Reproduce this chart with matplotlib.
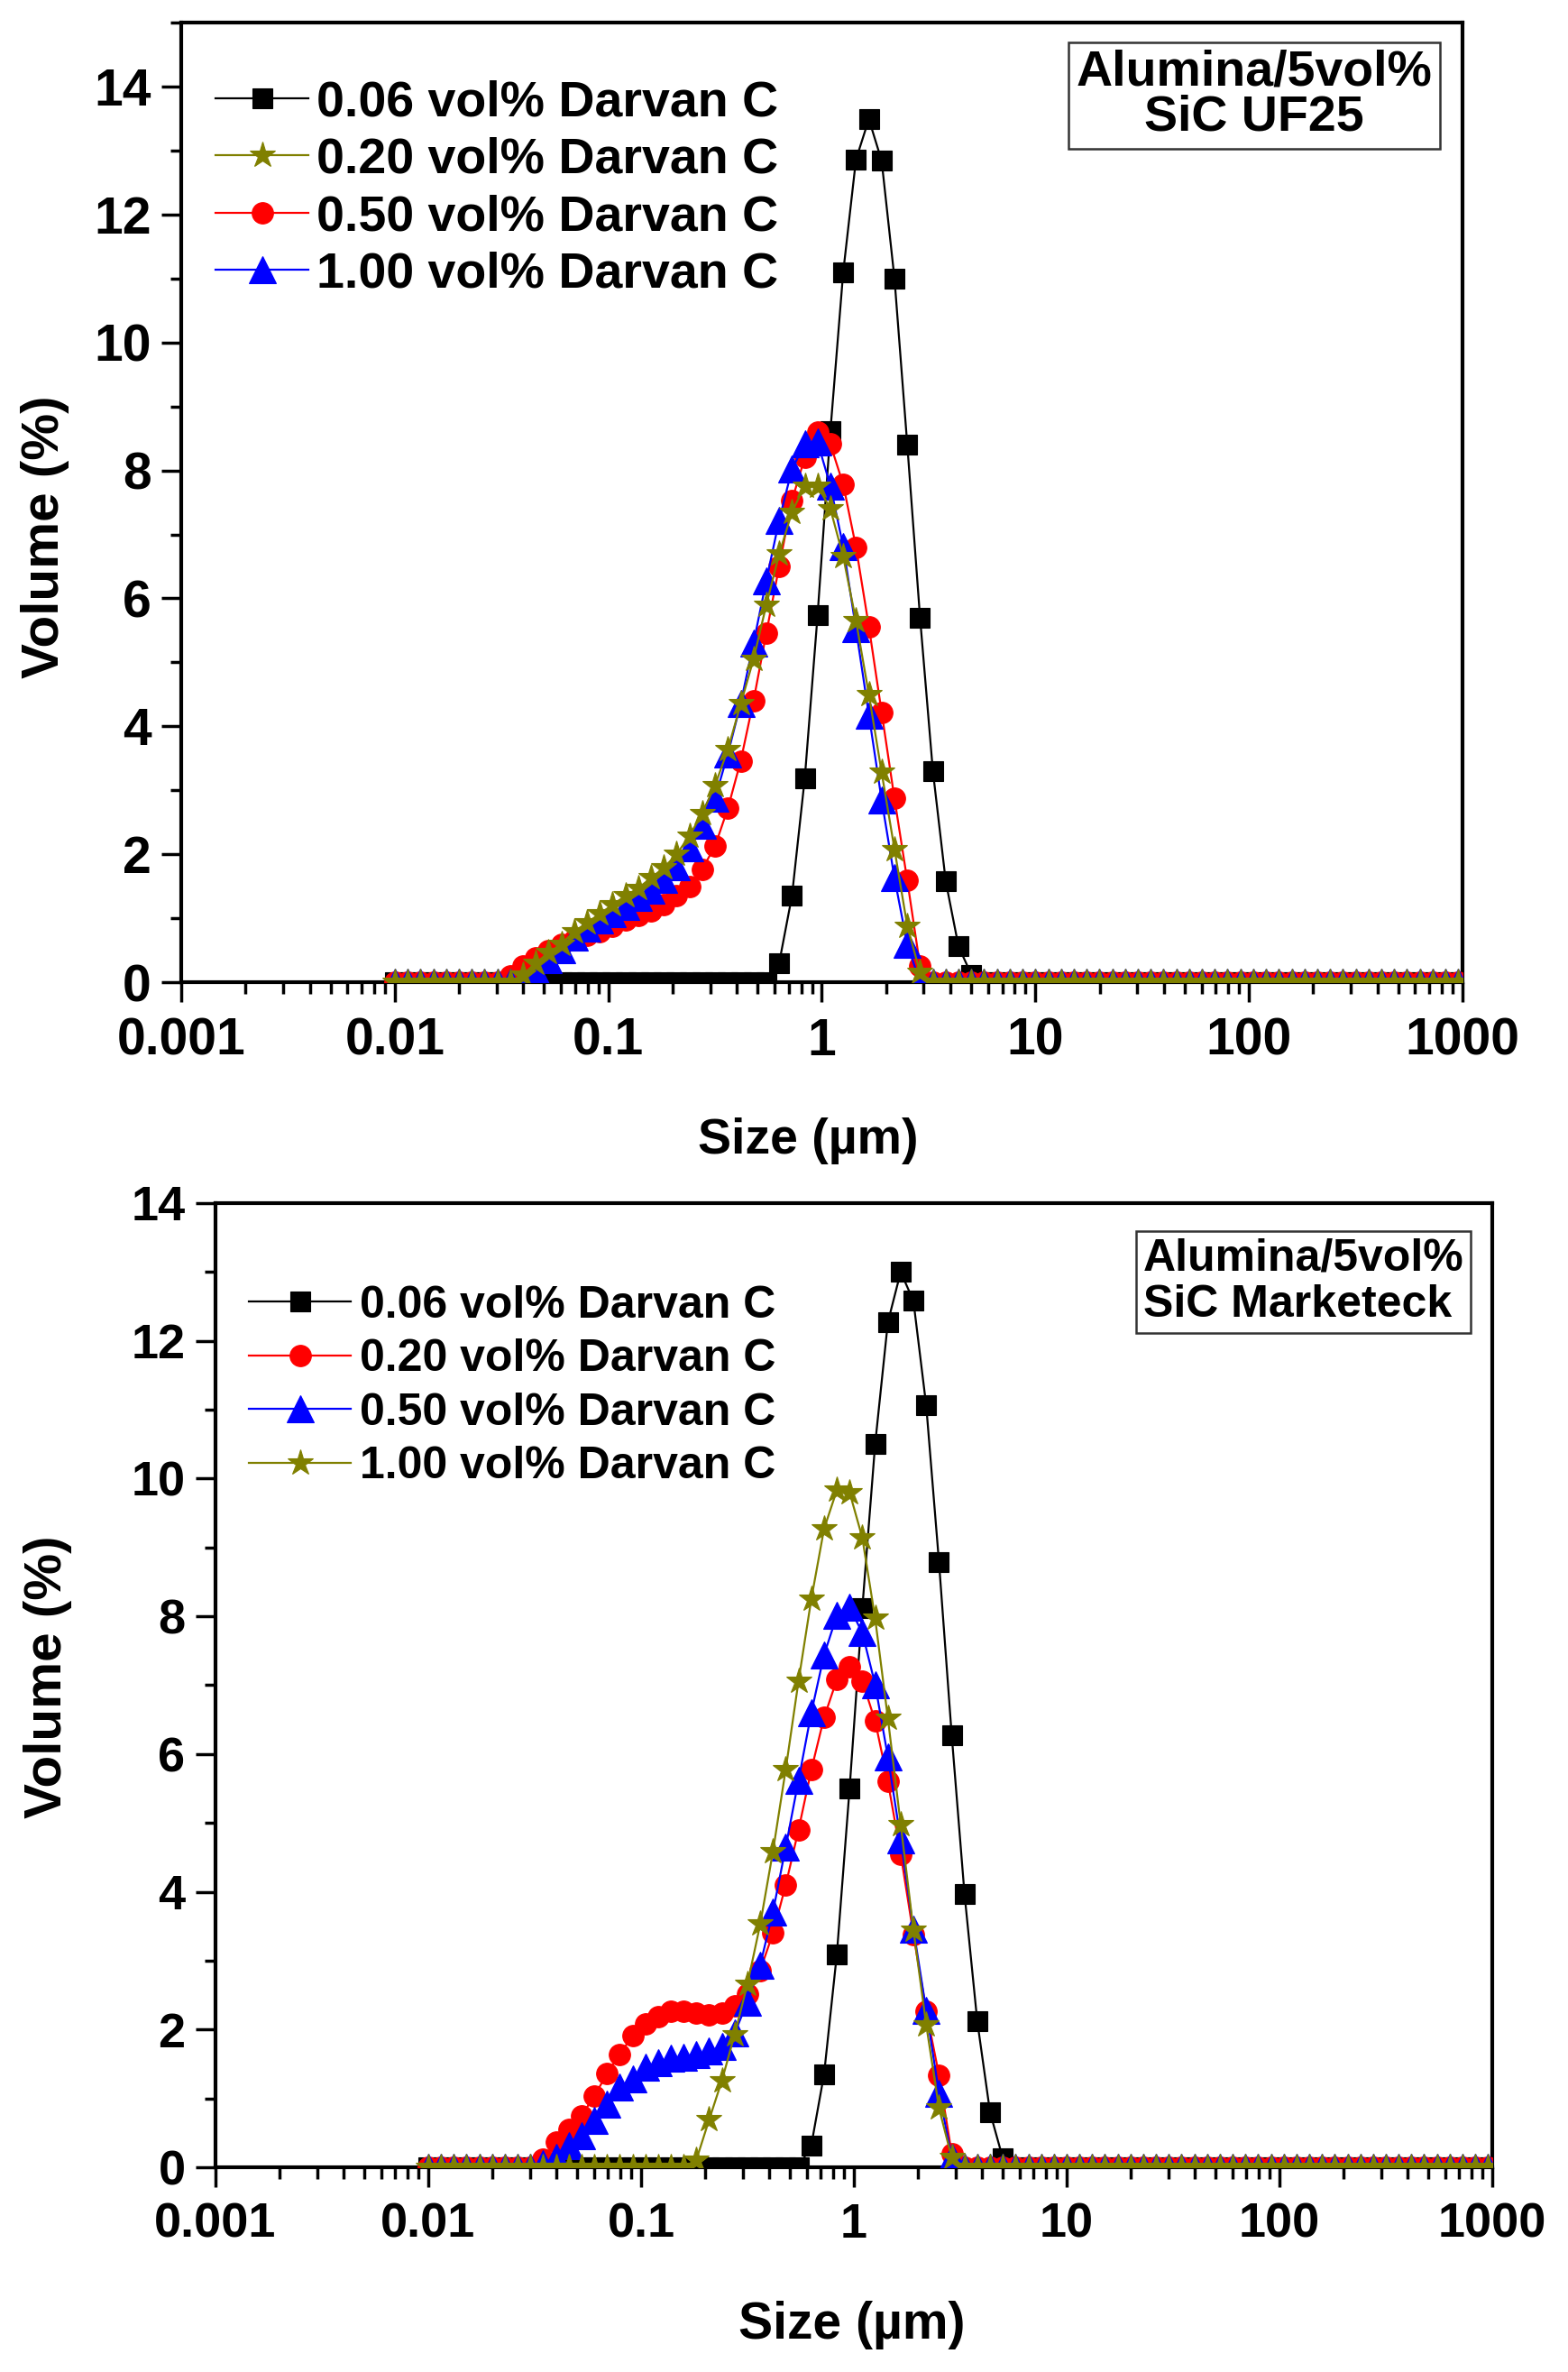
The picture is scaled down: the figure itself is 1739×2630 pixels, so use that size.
import numpy as np
import matplotlib
matplotlib.use("Agg")
import matplotlib.pyplot as plt
from matplotlib.ticker import FixedLocator, NullFormatter


# laser diffraction size classes (um), ~16.7 per decade
SIZE_UM = [
    0.0100, 0.01148, 0.01318, 0.01514, 0.01738, 0.01995, 0.02291, 0.02630, 0.03020, 0.03467,
    0.03981, 0.04571, 0.05248, 0.06026, 0.06918, 0.07943, 0.09120, 0.1047, 0.1202, 0.1380,
    0.1585, 0.1820, 0.2089, 0.2399, 0.2754, 0.3162, 0.3631, 0.4169, 0.4786, 0.5495,
    0.6310, 0.7244, 0.8318, 0.9550, 1.096, 1.259, 1.445, 1.660, 1.905, 2.188,
    2.512, 2.884, 3.311, 3.802, 4.365, 5.012, 5.754, 6.607, 7.586, 8.710,
    10.00, 11.48, 13.18, 15.14, 17.38, 19.95, 22.91, 26.30, 30.20, 34.67,
    39.81, 45.71, 52.48, 60.26, 69.18, 79.43, 91.20, 104.7, 120.2, 138.0,
    158.5, 182.0, 208.9, 239.9, 275.4, 316.2, 363.1, 416.9, 478.6, 549.5,
    631.0, 724.4, 831.8, 955.0, 1096.0,
]

# volume (%); each list starts at the given size class,
# every other class reads 0
# --- top panel: Alumina/5vol% SiC UF25 ---
UF25_006_START = 30
UF25_006 = [0.30, 1.35, 3.19, 5.74, 8.61, 11.10, 12.86, 13.49, 12.84, 11.00,
            8.40, 5.69, 3.30, 1.58, 0.56, 0.12]
UF25_020_START = 10
UF25_020 = [0.12, 0.30, 0.46, 0.60, 0.79, 0.93, 1.07, 1.21, 1.35, 1.47,
            1.63, 1.79, 2.00, 2.29, 2.64, 3.08, 3.64, 4.35, 5.05, 5.90,
            6.69, 7.35, 7.76, 7.76, 7.40, 6.65, 5.65, 4.50, 3.28, 2.08,
            0.88, 0.15]
UF25_050_START = 9
UF25_050 = [0.10, 0.25, 0.38, 0.50, 0.60, 0.67, 0.73, 0.79, 0.88, 0.98,
            1.05, 1.12, 1.21, 1.35, 1.50, 1.77, 2.13, 2.72, 3.46, 4.40,
            5.46, 6.50, 7.53, 8.20, 8.60, 8.41, 7.78, 6.80, 5.56, 4.22,
            2.87, 1.59, 0.25]
UF25_100_START = 10
UF25_100 = [0.05, 0.18, 0.35, 0.51, 0.70, 0.84, 0.98, 1.07, 1.19, 1.33,
            1.44, 1.61, 1.80, 2.10, 2.45, 2.88, 3.57, 4.36, 5.30, 6.28,
            7.22, 8.02, 8.41, 8.44, 7.76, 6.81, 5.52, 4.18, 2.85, 1.63,
            0.59]

# --- bottom panel: Alumina/5vol% SiC Marketeck ---
MK_006_START = 30
MK_006 = [0.32, 1.35, 3.09, 5.50, 8.12, 10.50, 12.27, 13.00, 12.58, 11.06,
          8.79, 6.27, 3.97, 2.12, 0.80, 0.13]
MK_020_START = 9
MK_020 = [0.12, 0.37, 0.55, 0.75, 1.03, 1.36, 1.64, 1.91, 2.08, 2.19,
          2.26, 2.26, 2.24, 2.21, 2.24, 2.35, 2.52, 2.86, 3.40, 4.10,
          4.90, 5.77, 6.53, 7.08, 7.27, 7.06, 6.48, 5.60, 4.55, 3.38,
          2.27, 1.34, 0.20]
MK_050_START = 9
MK_050 = [0.05, 0.15, 0.31, 0.46, 0.68, 0.92, 1.16, 1.29, 1.45, 1.52,
          1.58, 1.60, 1.64, 1.69, 1.75, 1.95, 2.40, 2.94, 3.71, 4.65,
          5.62, 6.60, 7.44, 8.01, 8.13, 7.76, 7.01, 5.96, 4.76, 3.46,
          2.28, 1.08, 0.14]
MK_100_START = 21
MK_100 = [0.11, 0.69, 1.26, 1.93, 2.66, 3.53, 4.59, 5.78, 7.06, 8.25,
          9.27, 9.83, 9.80, 9.14, 7.97, 6.52, 4.98, 3.45, 2.07, 0.86,
          0.14]

LABELS = ["0.06 vol% Darvan C", "0.20 vol% Darvan C",
          "0.50 vol% Darvan C", "1.00 vol% Darvan C"]
X_TICKS = [0.001, 0.01, 0.1, 1, 10, 100, 1000]
X_TICK_LABELS = ["0.001", "0.01", "0.1", "1", "10", "100", "1000"]

BLACK = "#000000"
OLIVE = "#808000"
RED = "#FF0000"
BLUE = "#0000FF"

MARKER_SIZE = {"s": 16, "o": 17, "^": 21, "*": 21}

plt.rcParams["font.family"] = ["Liberation Sans", "DejaVu Sans"]
plt.rcParams["font.weight"] = "bold"


def full_series(start, values):
    """Place a read segment onto the full size grid (other classes are 0)."""
    y = np.zeros(len(SIZE_UM))
    y[start:start + len(values)] = values
    return y


def draw_series(ax, y, color, marker, label, z):
    return ax.plot(SIZE_UM, y, color=color, lw=1.6, marker=marker,
                   ms=MARKER_SIZE[marker], mfc=color, mec=color, mew=0.8,
                   label=label, zorder=z)[0]


def style_axes(ax, ymax, tick_size):
    ax.set_xscale("log")
    ax.set_xlim(0.001, 1000)
    ax.set_ylim(0, ymax)
    ax.xaxis.set_major_locator(FixedLocator(X_TICKS))
    ax.set_xticklabels(X_TICK_LABELS)
    minors = [m * 10.0 ** e for e in range(-3, 3) for m in range(2, 10)]
    ax.xaxis.set_minor_locator(FixedLocator(minors))
    ax.xaxis.set_minor_formatter(NullFormatter())
    ax.set_yticks(range(0, 15, 2))
    ax.set_yticks(range(1, ymax + 1, 2), minor=True)
    for s in ax.spines.values():
        s.set_linewidth(3)
    ax.tick_params(which="both", direction="out", top=False, right=False, width=2.5)
    ax.tick_params(which="major", length=16, labelsize=tick_size)
    ax.tick_params(axis="y", which="major", pad=8)
    ax.tick_params(axis="x", which="major", pad=12)
    ax.tick_params(which="minor", length=9)
    for lab in ax.get_xticklabels() + ax.get_yticklabels():
        lab.set_fontweight("bold")


def plot_panels():
    fig = plt.figure(figsize=(17.39, 26.30), dpi=100)

    # top panel
    ax1 = fig.add_axes([0.1156, 0.5859, 0.8171, 0.4046])
    h_blk = draw_series(ax1, full_series(UF25_006_START, UF25_006), BLACK, "s", LABELS[0], 2)
    h_red = draw_series(ax1, full_series(UF25_050_START, UF25_050), RED, "o", LABELS[2], 3)
    h_blu = draw_series(ax1, full_series(UF25_100_START, UF25_100), BLUE, "^", LABELS[3], 4)
    h_olv = draw_series(ax1, full_series(UF25_020_START, UF25_020), OLIVE, "*", LABELS[1], 5)
    style_axes(ax1, 15, 41)
    ax1.legend([h_blk, h_olv, h_red, h_blu], [LABELS[0], LABELS[1], LABELS[2], LABELS[3]],
               loc="upper left", bbox_to_anchor=(0.027, 0.940), frameon=False,
               borderpad=0, borderaxespad=0, handlelength=1.85, handletextpad=0.15,
               labelspacing=0.2, numpoints=1,
               prop={"weight": "bold", "size": 40})
    ax1.text(0.8374, 0.924, "Alumina/5vol%\nSiC UF25", transform=ax1.transAxes,
             ha="center", va="center", multialignment="center", fontsize=40,
             fontweight="bold", linespacing=0.95,
             bbox=dict(boxstyle="square,pad=0.15", fc="white", ec="#333333", lw=1.8))
    ax1.text(-0.106, 0.464, "Volume (%)", transform=ax1.transAxes, rotation=90,
             ha="center", va="center", fontsize=42, fontweight="bold")
    ax1.text(0.489, -0.165, "Size (\u00b5m)", transform=ax1.transAxes,
             ha="center", va="center", fontsize=40, fontweight="bold")

    # bottom panel
    ax2 = fig.add_axes([0.1374, 0.0863, 0.8143, 0.4065])
    g_blk = draw_series(ax2, full_series(MK_006_START, MK_006), BLACK, "s", LABELS[0], 2)
    g_red = draw_series(ax2, full_series(MK_020_START, MK_020), RED, "o", LABELS[1], 3)
    g_blu = draw_series(ax2, full_series(MK_050_START, MK_050), BLUE, "^", LABELS[2], 4)
    g_olv = draw_series(ax2, full_series(MK_100_START, MK_100), OLIVE, "*", LABELS[3], 5)
    style_axes(ax2, 14, 39)
    ax2.legend([g_blk, g_red, g_blu, g_olv], LABELS,
               loc="upper left", bbox_to_anchor=(0.026, 0.915), frameon=False,
               borderpad=0, borderaxespad=0, handlelength=2.27, handletextpad=0.2,
               labelspacing=0.27, numpoints=1,
               prop={"weight": "bold", "size": 36})
    ax2.text(0.852, 0.918, "Alumina/5vol%\nSiC Marketeck", transform=ax2.transAxes,
             ha="center", va="center", multialignment="left", fontsize=36,
             fontweight="bold", linespacing=1.15,
             bbox=dict(boxstyle="square,pad=0.15", fc="white", ec="#333333", lw=1.8))
    ax2.text(-0.131, 0.509, "Volume (%)", transform=ax2.transAxes, rotation=90,
             ha="center", va="center", fontsize=42, fontweight="bold")
    ax2.text(0.4986, -0.164, "Size (\u00b5m)", transform=ax2.transAxes,
             ha="center", va="center", fontsize=41, fontweight="bold")

    fig.savefig("out.png", dpi=100, facecolor="white")


def main() -> None:
    plot_panels()


if __name__ == "__main__":
    main()
